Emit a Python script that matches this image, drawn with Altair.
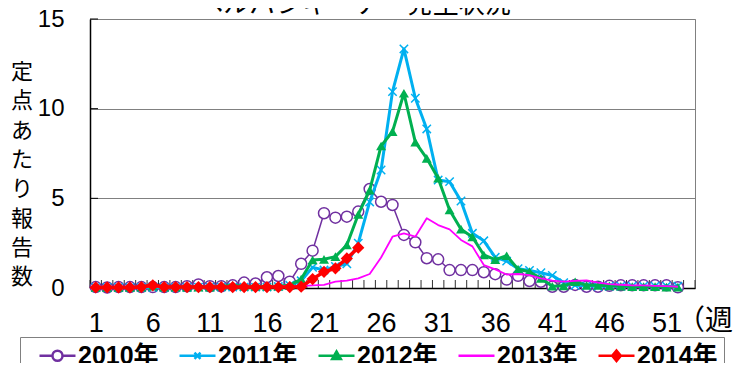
import altair as alt
import pandas as pd

weeks = list(range(1, 53))
weeks_2014 = list(range(1, 25))

v2010 = [0.05, 0.03, 0.05, 0.05, 0.05, 0.05, 0.05, 0.05, 0.1, 0.2,
         0.1, 0.1, 0.15, 0.3, 0.25, 0.6, 0.67, 0.35, 1.35, 2.08,
         4.17, 3.92, 3.98, 4.26, 5.52, 4.81, 4.63, 2.96, 2.55, 1.66,
         1.6, 1.0, 1.0, 1.0, 0.88, 0.77, 0.47, 0.68, 0.39, 0.35,
         0.07, 0.07, 0.17, 0.07, 0.07, 0.12, 0.15, 0.15, 0.15, 0.15,
         0.15, 0.04]
v2011 = [0.03, 0.03, 0.03, 0.03, 0.03, 0.03, 0.03, 0.03, 0.03, 0.05,
         0.05, 0.05, 0.05, 0.05, 0.05, 0.05, 0.08, 0.15, 0.4, 1.15,
         1.0, 1.2, 1.35, 2.5, 4.8, 6.58, 10.95, 13.33, 10.58, 8.87,
         6.02, 5.93, 4.85, 3.05, 2.63, 1.71, 1.5, 1.08, 0.98, 0.85,
         0.7, 0.3, 0.15, 0.12, 0.1, 0.1, 0.1, 0.1, 0.1, 0.1,
         0.1, 0.1]
v2012 = [0.03, 0.03, 0.03, 0.03, 0.05, 0.1, 0.05, 0.05, 0.05, 0.05,
         0.05, 0.1, 0.15, 0.1, 0.1, 0.1, 0.1, 0.15, 0.5, 1.56,
         1.6, 1.75, 2.4, 4.1, 5.45, 7.92, 8.72, 10.86, 8.13, 7.23,
         6.12, 4.35, 3.28, 2.85, 1.84, 1.58, 1.8, 1.05, 0.91, 0.54,
         0.1, 0.12, 0.35, 0.15, 0.15, 0.12, 0.1, 0.08, 0.08, 0.08,
         0.05, 0.05]
v2013 = [0.05, 0.05, 0.05, 0.05, 0.05, 0.05, 0.05, 0.05, 0.05, 0.05,
         0.05, 0.05, 0.05, 0.05, 0.08, 0.08, 0.1, 0.1, 0.1, 0.15,
         0.17, 0.35, 0.41, 0.54, 0.78, 1.7, 2.86, 3.05, 2.86, 3.89,
         3.51, 3.27, 2.68, 2.32, 1.28, 1.04, 0.75, 0.78, 0.72, 0.54,
         0.41, 0.35, 0.4, 0.43, 0.3, 0.22, 0.18, 0.15, 0.15, 0.12,
         0.1, 0.07]
v2014 = [0.03, 0.03, 0.03, 0.03, 0.05, 0.15, 0.05, 0.05, 0.05, 0.05,
         0.05, 0.05, 0.05, 0.05, 0.05, 0.05, 0.05, 0.05, 0.07, 0.5,
         0.9, 1.1, 1.65, 2.25]

years = ["2010年", "2011年", "2012年", "2013年", "2014年"]
colors = ["#7030A0", "#00B0F0", "#00B050", "#FF00FF", "#FF0000"]

x_tick_values = [1, 6, 11, 16, 21, 26, 31, 36, 41, 46, 51]
y_tick_values = [0, 5, 10, 15]

title_text = "ヘルパンギーナ　発生状況"
y_title_text = "定\n点\nあ\nた\nり\n報\n告\n数"
x_unit_text = "（週）"

rows = []
for yr, vals, wk in zip(years, [v2010, v2011, v2012, v2013, v2014],
                        [weeks, weeks, weeks, weeks, weeks_2014]):
    for w, v in zip(wk, vals):
        rows.append({"week": w, "year": yr, "value": v})
df = pd.DataFrame(rows)

W, H = 605, 269
NUM_FONT = "Liberation Sans, Noto Sans CJK JP"
JP_FONT = "Noto Sans CJK JP"

xscale = alt.Scale(domain=[0.5, 53.5], nice=False, zero=False)
yscale = alt.Scale(domain=[0, 15], nice=False)
xaxis = alt.Axis(values=x_tick_values, title=None, ticks=False, grid=False,
                 labelFont=NUM_FONT, labelFontSize=27, labelColor="black",
                 labelPadding=22, domainColor="black", domainWidth=1.5,
                 labelFlush=False, labelOverlap=False)
yaxis = alt.Axis(values=y_tick_values, title=None, ticks=False, grid=True,
                 gridColor="#808080", gridWidth=1,
                 labelFont=NUM_FONT, labelFontSize=24, labelColor="black",
                 labelPadding=26, domainColor="black", domainWidth=1.5)


def X(f):
    return alt.X(f, scale=xscale, axis=xaxis)


def Y(f):
    return alt.Y(f, scale=yscale, axis=yaxis)


# legend symbol paths (units of 7 px, symbol centre 13 px into entry)
c = 2.714
a, b = 0.143, 5.286
p2010 = (f"M{a},0H{c-0.72}M{c+0.72},0H{b}"
         f"M{c+0.72},0A0.72,0.72 0 1,1 {c-0.72},0A0.72,0.72 0 1,1 {c+0.72},0Z")
p2011 = (f"M{a},0H{b}M{c-0.43},-0.43L{c+0.43},0.43M{c-0.43},0.43L{c+0.43},-0.43")
p2012 = f"M{a},0H{b}M{c},-0.62L{c+0.62},0.45L{c-0.62},0.45Z"
p2013 = f"M{a},0H{b}"
p2014 = f"M{a},0H{b}M{c},-0.75L{c+0.62},0L{c},0.75L{c-0.62},0Z"
legend_paths = [p2010, p2011, p2012, p2013, p2014]
legend_fills = ["white", "transparent", colors[2], "transparent", colors[4]]

legend = alt.Legend(orient="none", legendX=-70, legendY=318,
                    direction="horizontal", title=None, padding=6,
                    fillColor="white", strokeColor="#808080",
                    labelFont=NUM_FONT, labelFontSize=25, labelFontWeight="bold",
                    labelColor="black", labelOffset=27, labelLimit=300,
                    symbolSize=196, symbolStrokeWidth=2.5, symbolOpacity=1,
                    columnPadding=7)

line_w = {"2010年": 1.5, "2011年": 3, "2012年": 3, "2013年": 1.8, "2014年": 3.5}

layers = []

# inside tick marks on the category axis
bounds = pd.DataFrame({"b": [0.5 + k for k in range(54)]})
layers.append(alt.Chart(bounds).mark_rule(color="#303030", strokeWidth=1).encode(
    x=X("b:Q"), y=alt.value(H - 8), y2=alt.value(H)))
yt = pd.DataFrame({"v": [5, 10, 15]})
layers.append(alt.Chart(yt).mark_rule(color="black", strokeWidth=1).encode(
    y=Y("v:Q"), x=alt.value(0), x2=alt.value(8)))

for i, yr in enumerate(years):
    base = alt.Chart(df).transform_filter(alt.datum.year == yr)
    layers.append(base.mark_line(strokeWidth=line_w[yr], strokeJoin="round",
                                 color=colors[i]).encode(
        x=X("week:Q"), y=Y("value:Q")))
    if yr == "2010年":
        pt = base.mark_point(shape="circle", filled=False, fill="white",
                             stroke=colors[0], size=121, strokeWidth=1.5, opacity=1)
    elif yr == "2011年":
        pt = base.mark_point(shape="M-1,-1L1,1M-1,1L1,-1", filled=False,
                             stroke=colors[1], size=70, strokeWidth=1.5, opacity=1)
    elif yr == "2012年":
        pt = base.mark_point(shape="triangle-up", filled=True, color=colors[2],
                             size=100, opacity=1)
    elif yr == "2014年":
        pt = base.mark_point(shape="diamond", filled=True, color=colors[4],
                             size=150, opacity=1)
    else:
        pt = None
    if pt is not None:
        layers.append(pt.encode(x=X("week:Q"), y=Y("value:Q")))

# legend-only layer (drawn off-canvas), its symbols combine line + marker
leg_df = pd.DataFrame({"year": years})
layers.append(alt.Chart(leg_df).mark_point(filled=False, size=196, strokeWidth=2.5,
                                          opacity=1).encode(
    x=alt.value(-600), y=alt.value(-600),
    shape=alt.Shape("year:N", scale=alt.Scale(domain=years, range=legend_paths),
                    legend=legend),
    color=alt.Color("year:N", scale=alt.Scale(domain=years, range=colors),
                    legend=legend),
    fill=alt.Fill("year:N", scale=alt.Scale(domain=years, range=legend_fills),
                  legend=legend),
))

txt = pd.DataFrame({"t": [title_text], "yt": [y_title_text], "u": [x_unit_text]})
layers.append(alt.Chart(txt).mark_text(font=JP_FONT, fontSize=26, color="black",
                                       align="center", baseline="alphabetic").encode(
    text="t:N", x=alt.value(264), y=alt.value(-6)))
layers.append(alt.Chart(txt).mark_text(font=JP_FONT, fontSize=22, color="black",
                                       align="center", baseline="middle",
                                       lineBreak="\n", lineHeight=29.3).encode(
    text="yt:N", x=alt.value(-68), y=alt.value(53)))
layers.append(alt.Chart(txt).mark_text(font=JP_FONT, fontSize=28, color="black",
                                       align="left", baseline="middle").encode(
    text="u:N", x=alt.value(587), y=alt.value(303)))

chart = alt.layer(*layers).properties(
    width=W, height=H,
    autosize=alt.AutoSizeParams(type="none"),
    padding={"left": 82, "top": 11, "right": 38, "bottom": 75},
).configure_view(stroke="#808080", strokeWidth=1)

chart.save("out.html", embed_options={"renderer": "svg", "actions": False})
